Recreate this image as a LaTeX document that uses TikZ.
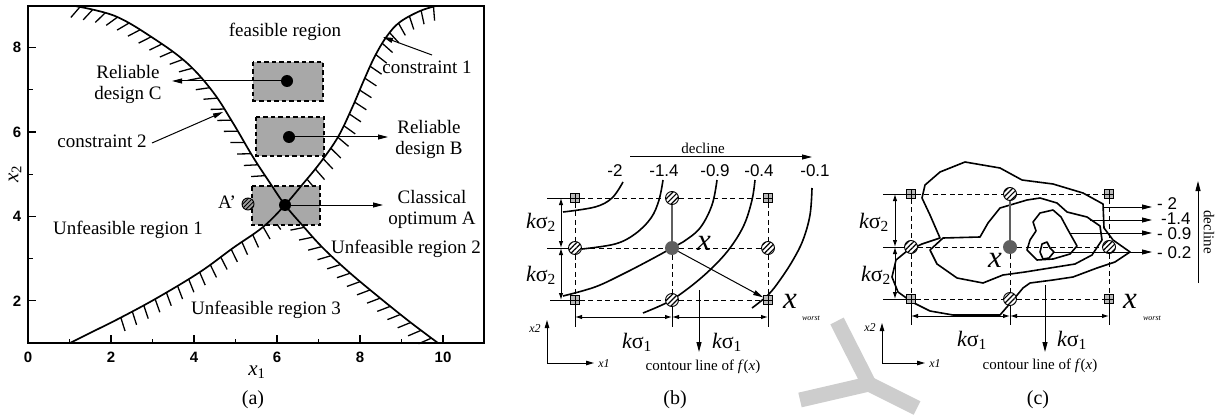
\documentclass[tikz,border=0pt]{standalone}
\usepackage{fontspec}
\setmainfont{Liberation Serif}
\newfontfamily\sansf{Liberation Sans}
\usetikzlibrary{arrows.meta,decorations.markings,patterns.meta}
\definecolor{boxgray}{RGB}{168,168,168}
\definecolor{dotgray}{RGB}{95,95,95}
\definecolor{wmgray}{RGB}{205,205,205}
\newcommand\fsz[1]{\fontsize{#1}{#1}\selectfont}
\newcommand\ksig[1]{{\itshape k}σ\textsubscript{#1}}
\tikzset{
  frame/.style={line width=1.4pt},
  tickl/.style={line width=1.2pt},
  curve/.style={line width=1.7pt},
  hatchA/.style={decorate, decoration={markings, mark=between positions 0.01 and 0.985 step 13pt with {\draw[line width=1.3pt] (0,0) -- (-120:14pt);}}},
  hatchB/.style={decorate, decoration={markings, mark=between positions 0.005 and 0.9 step 13pt with {\draw[line width=1.3pt] (0,0) -- (80:14pt);}}},
  dbox/.style={draw, line width=1.1pt, dash pattern=on 4.5pt off 3pt, fill=boxgray},
  bdot/.style={circle, fill=black, minimum size=12pt, inner sep=0pt},
  adot/.style={circle, draw, line width=0.9pt, minimum size=12pt, inner sep=0pt, preaction={fill=gray!75}, pattern={Lines[angle=45,distance=3pt,line width=0.9pt]}},
  arr/.style={line width=1pt, -{Triangle[length=10pt,width=5pt]}},
  arrs/.style={line width=1pt, -{Triangle[length=8pt,width=4.5pt]}},
  dim/.style={line width=1pt, {Latex[length=7pt,width=4.5pt]}-{Latex[length=7pt,width=4.5pt]}},
  thinl/.style={line width=1pt},
  lab/.style={font=\fsz{19}, inner sep=0pt},
  mlab/.style={font=\fontsize{19}{21}\selectfont, align=center, inner sep=0pt},
  tick/.style={font=\sansf\bfseries\fsz{15}, inner sep=0pt},
  num/.style={font=\sansf\fsz{17}, inner sep=0pt},
  small/.style={font=\fsz{15}, inner sep=0pt},
  kl/.style={font=\fsz{22}, inner sep=0pt},
  bigx/.style={font=\itshape\fsz{31}, inner sep=0pt},
  tiny/.style={font=\itshape\fsz{8}, inner sep=0pt},
  axl/.style={font=\itshape\fsz{12}, inner sep=0pt},
  captxt/.style={font=\fsz{20}, inner sep=0pt},
  hcirc/.style={circle, draw, line width=0.9pt, minimum size=13pt, inner sep=0pt, preaction={fill=white}, pattern={Lines[angle=45,distance=3.6pt,line width=1.2pt]}},
  sq/.style={rectangle, draw, line width=0.8pt, minimum size=9pt, inner sep=0pt, fill=gray!55,
    path picture={\draw[line width=0.7pt] (path picture bounding box.north) -- (path picture bounding box.south) (path picture bounding box.west) -- (path picture bounding box.east);}},
  cdot/.style={circle, fill=dotgray, minimum size=14pt, inner sep=0pt},
  gl/.style={line width=1pt, dash pattern=on 5pt off 3.5pt},
  cont/.style={line width=1.6pt, line join=round},
  wm/.style={line width=15pt, color=wmgray},
}
\begin{document}
\begin{tikzpicture}[x=1pt,y=-1pt]
\useasboundingbox (0,0) rectangle (1218,417);
% ---------------- watermark
\draw[wm] (837,321) -- (869,384) -- (800,400);
\draw[wm] (869,384) -- (917,408);

% ================= panel (a)
% hatches
\path[hatchA] plot[smooth,tension=0.6] coordinates {(75,6) (115,16) (153,38) (187,63) (213,92) (233,123) (253,157) (270,183) (285,205) (303,226) (323,248) (350,273) (380,298) (410,322) (438,343)};
\path[hatchB] plot[smooth,tension=0.6] coordinates {(436,6) (420,11) (400,22) (387,36) (375,56) (364,80) (352,108) (338,137) (320,163) (302,185) (285,205) (263,227) (233,248) (200,272) (157,298) (120,318) (90,333) (70,343)};
% boxes
\draw[dbox] (253,62) rectangle (323,101);
\draw[dbox] (256,117) rectangle (324,156);
\draw[dbox] (252,186) rectangle (320,225);
% constraint curves
\draw[curve] plot[smooth,tension=0.6] coordinates {(75,6) (115,16) (153,38) (187,63) (213,92) (233,123) (253,157) (270,183) (285,205) (303,226) (323,248) (350,273) (380,298) (410,322) (438,343)};
\draw[curve] plot[smooth,tension=0.6] coordinates {(436,6) (420,11) (400,22) (387,36) (375,56) (364,80) (352,108) (338,137) (320,163) (302,185) (285,205) (263,227) (233,248) (200,272) (157,298) (120,318) (90,333) (70,343)};
% frame and ticks
\draw[frame] (28,6) rectangle (484,343);
\foreach \k in {2,4,...,10} {\draw[tickl] (28+41.5*\k,343) -- ++(0,-8);}
\foreach \k in {1,3,...,9} {\draw[tickl] (28+41.5*\k,343) -- ++(0,-4.5);}
\foreach \v in {2,4,6,8} {\draw[tickl] (28,385.2-42.2*\v) -- ++(8,0);}
\foreach \v in {3,5,7} {\draw[tickl] (28,385.2-42.2*\v) -- ++(4.5,0);}
\foreach \k in {0,2,...,10} {\node[tick] (tx\k) at (28+41.5*\k,357) {\k};}
\foreach \v in {2,4,6,8} {\node[tick] (ty\v) at (17,385.2-42.2*\v) {\v};}
\node[font=\fsz{21}, inner sep=0pt] (xone) at (257,372) {{\itshape x}\textsubscript{1}};
\node[font=\fsz{21}, inner sep=0pt, rotate=90] (xtwo) at (15,174) {{\itshape x}\textsubscript{2}};
% dots
\node[bdot] (C) at (287,81) {};
\node[bdot] (B) at (289,137) {};
\node[bdot] (A) at (285,205) {};
\node[adot] (Ap) at (248,204) {};
\node[lab, anchor=base] (Apt) at (227,208) {A'};
% labels
\node[lab, anchor=base] (feas) at (285,37) {feasible region};
\node[lab, anchor=base] (c1t) at (427,74) {constraint 1};
\node[lab, anchor=base] (c2t) at (102,148) {constraint 2};
\node[lab, anchor=base] (u1) at (128,234) {Unfeasible region 1};
\node[lab, anchor=base] (u2) at (406,253) {Unfeasible region 2};
\node[lab, anchor=base] (u3) at (266,314) {Unfeasible region 3};
\node[mlab] (Ct) at (128,84) {Reliable\\design C};
\node[mlab] (Bt) at (429,139) {Reliable\\design B};
\node[mlab] (At) at (432,209) {Classical\\optimum A};
\coordinate (Cend) at (172,81);
\coordinate (Bend) at (388,137);
\coordinate (Aend) at (383,205);
\draw[arr] (C) -- (Cend);
\draw[arr] (B) -- (Bend);
\draw[arr] (A) -- (Aend);
\coordinate (c1tail) at (432,55);
\coordinate (c1tip) at (383,37);
\draw[arr] (c1tail) -- (c1tip);
\coordinate (c2tail) at (152,143);
\coordinate (c2tip) at (223,112);
\draw[arr] (c2tail) -- (c2tip);
\node[captxt] (capa) at (253,400) {(a)};

% ================= panel (b)
% contours
\draw[cont] plot[smooth,tension=0.6] coordinates {(623,182) (612,198) (595,207) (563,212)};
\draw[cont] plot[smooth,tension=0.6] coordinates {(663,180) (659,200) (651,218) (635,234) (615,244) (582,249)};
\draw[cont] plot[smooth,tension=0.6] coordinates {(717,180) (712,205) (700,228) (683,242) (672,248) (650,260) (623,274) (595,287) (563,296)};
\draw[cont] plot[smooth,tension=0.6] coordinates {(755,180) (752,200) (744,225) (730,248) (712,268) (690,287) (668,302) (643,313)};
\draw[cont] plot[smooth,tension=0.6] coordinates {(812,188) (810,215) (803,240) (793,260) (780,280) (768,295) (752,308)};
% decline
\coordinate (bD0) at (630,157);
\coordinate (bD1) at (812,157);
\draw[arr] (bD0) -- (bD1);
\node[small] (bDt) at (703,148) {decline};
\node[num] (bl1) at (615,171) {-2};
\node[num] (bl2) at (664,171) {-1.4};
\node[num] (bl3) at (715,171) {-0.9};
\node[num] (bl4) at (759,171) {-0.4};
\node[num] (bl5) at (815,171) {-0.1};
% markers
\node[sq] (b11) at (575,198) {};
\node[hcirc] (b12) at (672,198) {};
\node[sq] (b13) at (768,198) {};
\node[hcirc] (b21) at (575,248) {};
\node[cdot] (b22) at (672,248) {};
\node[hcirc] (b23) at (768,248) {};
\node[sq] (b31) at (575,300) {};
\node[hcirc] (b32) at (672,300) {};
\node[sq] (b33) at (768,300) {};
\draw[gl] (b11) -- (b12);
\draw[gl] (b12) -- (b13);
\draw[gl] (b21) -- (b22);
\draw[gl] (b22) -- (b23);
\draw[gl] (b31) -- (b32);
\draw[gl] (b32) -- (b33);
\draw[gl] (b11) -- (b21);
\draw[gl] (b21) -- (b31);
\draw[gl] (b22) -- (b32);
\draw[gl] (b13) -- (b23);
\draw[gl] (b23) -- (b33);
\draw[line width=1.4pt, dotgray] (b12) -- (b22);
\draw[arr] (b22) -- (b33);
% left dimension
\coordinate (bT1) at (547,198);
\coordinate (bT2) at (547,248);
\coordinate (bT3) at (550,300);
\draw[thinl] (bT1) -- (b11);
\draw[thinl] (bT2) -- (b21);
\draw[thinl] (bT3) -- (b31);
\coordinate (bV1) at (561,198);
\coordinate (bV2) at (561,248);
\coordinate (bV3) at (561,300);
\draw[dim] (bV1) -- (bV2);
\draw[dim] (bV2) -- (bV3);
\node[kl] (bk21) at (541,222) {\ksig{2}};
\node[kl] (bk22) at (541,275) {\ksig{2}};
% bottom dimension
\coordinate (bE1) at (575,327);
\coordinate (bE2) at (672,327);
\coordinate (bE3) at (768,327);
\draw[thinl] (b31) -- (bE1);
\draw[thinl] (b32) -- (bE2);
\draw[thinl] (b33) -- (bE3);
\coordinate (bH1) at (575,317);
\coordinate (bH2) at (672,317);
\coordinate (bH3) at (768,317);
\draw[dim] (bH1) -- (bH2);
\draw[dim] (bH2) -- (bH3);
\node[kl] (bk11) at (637,342) {\ksig{1}};
\node[kl] (bk12) at (727,342) {\ksig{1}};
% contour line arrow
\coordinate (bC0) at (699,290);
\coordinate (bC1) at (699,352);
\draw[arr] (bC0) -- (bC1);
\node[small] (bCt) at (703,367) {contour line of \textit{f}(\textit{x})};
% axes indicator
\coordinate (bO) at (547,363);
\coordinate (bOy) at (547,320);
\coordinate (bOx) at (594,363);
\draw[arrs] (bO) -- (bOy);
\draw[arrs] (bO) -- (bOx);
\node[axl] (bx2) at (535,329) {x2};
\node[axl] (bx1) at (604,364) {x1};
% x labels
\node[bigx] (bx) at (704,243) {x};
\node[bigx] (bxw) at (790,301) {x};
\node[tiny] (bw) at (811,318) {worst};
\node[captxt] (capb) at (675,400) {(b)};

% ================= panel (c)
\draw[cont] (922,198) -- (925,185) -- (940,172) -- (965,162) -- (1000,168) -- (1022,180) -- (1053,184) -- (1083,193) -- (1103,204) -- (1104,228) -- (1113,240) -- (1130,252) -- (1115,262) -- (1097,268) -- (1073,277) -- (1053,280) -- (1030,283) -- (1023,288) -- (1013,300) -- (1000,315) -- (953,315) -- (930,311) -- (912,302) -- (898,292) -- (892,277) -- (896,260) -- (907,251) -- (922,244) -- (940,238) -- (930,215) -- cycle;
\draw[cont] (943,238) -- (980,237) -- (988,223) -- (1000,208) -- (1027,200) -- (1040,198) -- (1057,203) -- (1067,212) -- (1087,217) -- (1100,226) -- (1102,240) -- (1092,255) -- (1075,264) -- (1050,268) -- (1025,272) -- (1003,275) -- (983,283) -- (957,278) -- (937,264) -- (930,250) -- cycle;
\draw[cont] (1033,222) -- (1040,213) -- (1053,210) -- (1061,217) -- (1068,230) -- (1077,246) -- (1070,254) -- (1053,259) -- (1037,260) -- (1027,250) -- (1030,240) -- (1036,231) -- cycle;
\draw[cont] (1042,244) -- (1047,242) -- (1050,248) -- (1054,252) -- (1049,258) -- (1043,259) -- (1040,252) -- cycle;
% markers
\node[sq] (c11) at (911,194) {};
\node[hcirc] (c12) at (1010,194) {};
\node[sq] (c13) at (1109,194) {};
\node[hcirc] (c21) at (911,247) {};
\node[cdot] (c22) at (1010,247) {};
\node[hcirc] (c23) at (1109,247) {};
\node[sq] (c31) at (911,299) {};
\node[hcirc] (c32) at (1010,299) {};
\node[sq] (c33) at (1109,299) {};
\draw[gl] (c11) -- (c12);
\draw[gl] (c12) -- (c13);
\draw[gl] (c21) -- (c22);
\draw[gl] (c22) -- (c23);
\draw[gl] (c31) -- (c32);
\draw[gl] (c32) -- (c33);
\draw[gl] (c11) -- (c21);
\draw[gl] (c21) -- (c31);
\draw[gl] (c22) -- (c32);
\draw[gl] (c13) -- (c23);
\draw[gl] (c23) -- (c33);
\draw[line width=1.4pt, dotgray] (c12) -- (c22);
% left dimension
\coordinate (cT1) at (883,194);
\coordinate (cT2) at (883,247);
\coordinate (cT3) at (883,299);
\draw[thinl] (cT1) -- (c11);
\draw[thinl] (cT2) -- (c21);
\draw[thinl] (cT3) -- (c31);
\coordinate (cV1) at (895,194);
\coordinate (cV2) at (895,247);
\coordinate (cV3) at (895,299);
\draw[dim] (cV1) -- (cV2);
\draw[dim] (cV2) -- (cV3);
\node[kl] (ck21) at (874,222) {\ksig{2}};
\node[kl] (ck22) at (876,275) {\ksig{2}};
% bottom dimension
\coordinate (cE1) at (911,325);
\coordinate (cE2) at (1010,325);
\coordinate (cE3) at (1109,325);
\draw[thinl] (c31) -- (cE1);
\draw[thinl] (c32) -- (cE2);
\draw[thinl] (c33) -- (cE3);
\coordinate (cH1) at (911,316);
\coordinate (cH2) at (1010,316);
\coordinate (cH3) at (1109,316);
\draw[dim] (cH1) -- (cH2);
\draw[dim] (cH2) -- (cH3);
\node[kl] (ck11) at (972,340) {\ksig{1}};
\node[kl] (ck12) at (1072,340) {\ksig{1}};
% contour arrow
\coordinate (cC0) at (1045,285);
\coordinate (cC1) at (1045,352);
\draw[arr] (cC0) -- (cC1);
\node[small] (cCt) at (1040,366) {contour line of \textit{f}(\textit{x})};
% axes indicator
\coordinate (cO) at (882,363);
\coordinate (cOy) at (882,323);
\coordinate (cOx) at (925,363);
\draw[arrs] (cO) -- (cOy);
\draw[arrs] (cO) -- (cOx);
\node[axl] (cx2) at (870,328) {x2};
\node[axl] (cx1) at (935,364) {x1};
% x labels
\node[bigx] (cx) at (995,260) {x};
\node[bigx] (cxw) at (1130,301) {x};
\node[tiny] (cw) at (1152,318) {worst};
% level arrows
\coordinate (cA1s) at (1103,207);
\coordinate (cA1e) at (1152,207);
\coordinate (cA2s) at (1090,220);
\coordinate (cA2e) at (1152,220);
\coordinate (cA3s) at (1070,233);
\coordinate (cA3e) at (1152,233);
\coordinate (cA4s) at (1054,252);
\coordinate (cA4e) at (1152,252);
\draw[arr] (cA1s) -- (cA1e);
\draw[arr] (cA2s) -- (cA2e);
\draw[arr] (cA3s) -- (cA3e);
\draw[arr] (cA4s) -- (cA4e);
\node[num, anchor=west] (cl1) at (1157,204) {- 2};
\node[num, anchor=west] (cl2) at (1161,219) {-1.4};
\node[num, anchor=west] (cl3) at (1157,234) {- 0.9};
\node[num, anchor=west] (cl4) at (1157,253) {- 0.2};
\coordinate (cV0) at (1198,283);
\coordinate (cVt) at (1198,181);
\draw[arr] (cV0) -- (cVt);
\node[small, rotate=-90] (cDt) at (1209,232) {decline};
\node[captxt] (capc) at (1038,400) {(c)};
\end{tikzpicture}
\end{document}
